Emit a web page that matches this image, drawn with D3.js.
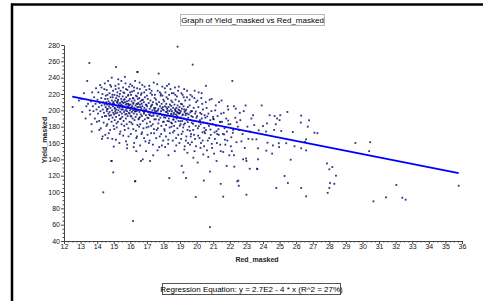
<!DOCTYPE html>
<html><head><meta charset="utf-8">
<script src="https://cdn.jsdelivr.net/npm/d3@7"></script>
<style>
html,body{margin:0;padding:0;background:#fff;}
svg{display:block;font-family:"Liberation Sans",Arial,sans-serif;}
</style></head>
<body>
<script>
const chartTitle = "Graph of Yield_masked vs Red_masked";
const xLabel = "Red_masked";
const yLabel = "Yield_masked";
const regressionText = "Regression Equation: y = 2.7E2 - 4 * x (R^2 = 27%)";
const xTicks = d3.range(12, 37, 1);
const yTicks = d3.range(40, 281, 20);
const regIntercept = 267;
const regSlope = -4.02;
const regRange = [12.5, 35.8];

const outliers = [[12.52,204],[13.4,236],[13.53,258],[13.67,174],[14.37,99.6],[16.16,64.5],[15.14,253],[16.42,247],[17.71,245],[18.85,278],[19.76,256],[20.56,230],[22.15,236],[14.88,138],[14.97,124],[16.28,113],[16.3,113.5],[16.64,138],[17.19,138],[16.75,140],[16.36,150],[15.0,155.6],[15.8,153.5],[14.29,165],[14.64,166],[14.85,138],[18.35,117],[19.36,117],[19.94,93.8],[21.6,94.3],[22.98,141],[22.27,131],[21.81,132],[22.51,114],[22.54,107.7],[22.45,113]];

const coreLeft = [[12.9,212],[13.1,198],[13.2,221],[13.3,190],[13.45,208],[13.35,205],[13.05,214],[13.55,200],
[13.58,195],[13.62,211],[13.66,183],[13.7,222],[13.74,205],[13.78,199],[13.82,216],[13.86,190],[13.9,208],[13.93,227],[13.96,201],[13.98,186],
[14.02,213],[14.05,196],[14.07,222],[14.1,204],[14.12,187],[14.15,209],[14.18,231],[14.2,199],[14.22,178],[14.25,215],[14.27,206],[14.3,192],[14.32,220],[14.34,201],[14.37,210],[14.39,185],[14.41,197],[14.43,226],[14.45,207],[14.47,193],[14.48,214],[14.49,170],
[14.51,204],[14.52,218],[14.54,193],[14.55,210],[14.57,225],[14.58,199],[14.6,207],[14.61,183],[14.63,214],[14.64,202],[14.66,236],[14.68,196],[14.69,211],[14.71,189],[14.72,205],[14.74,221],[14.75,198],[14.77,209],[14.78,176],[14.8,203],[14.81,216],[14.83,194],[14.84,229],[14.86,207],[14.87,186],[14.89,212],[14.9,200],[14.92,219],[14.93,191],[14.95,205],[14.96,224],[14.97,197],[14.98,210],[14.99,181],[14.88,240],
[15.01,208],[15.02,195],[15.04,219],[15.05,203],[15.06,188],[15.08,212],[15.09,199],[15.11,226],[15.12,206],[15.14,192],[15.15,215],[15.16,201],[15.18,179],[15.19,210],[15.21,197],[15.22,222],[15.24,204],[15.25,186],[15.26,213],[15.28,200],[15.29,232],[15.31,207],[15.32,194],[15.33,217],[15.35,203],[15.36,171],[15.38,209],[15.39,198],[15.41,224],[15.42,205],[15.43,190],[15.45,214],[15.46,201],[15.47,183],[15.48,211],[15.49,196],[15.27,238],[15.13,164],[15.37,220],[15.23,209],[15.44,207],[15.07,202],
[15.51,206],[15.52,192],[15.54,217],[15.55,201],[15.56,228],[15.58,209],[15.59,187],[15.61,213],[15.62,198],[15.64,221],[15.65,204],[15.66,176],[15.68,210],[15.69,195],[15.71,233],[15.72,207],[15.73,190],[15.75,216],[15.76,202],[15.78,183],[15.79,211],[15.8,199],[15.82,225],[15.83,205],[15.84,193],[15.86,218],[15.87,208],[15.89,168],[15.9,212],[15.91,197],[15.93,229],[15.94,203],[15.95,186],[15.97,214],[15.98,200],[15.99,222],[15.6,205],[15.7,200],[15.77,208],[15.85,203],[15.92,207],[15.53,210],[15.67,241],[15.81,158],[15.96,196],
[16.01,207],[16.02,193],[16.04,219],[16.05,202],[16.06,185],[16.08,211],[16.09,198],[16.11,230],[16.12,205],[16.14,190],[16.15,215],[16.16,200],[16.18,177],[16.19,209],[16.21,196],[16.22,224],[16.24,203],[16.25,188],[16.26,212],[16.28,199],[16.29,236],[16.31,206],[16.32,192],[16.33,218],[16.35,201],[16.36,166],[16.38,208],[16.39,195],[16.41,227],[16.42,204],[16.43,182],[16.45,214],[16.46,200],[16.47,221],[16.48,209],[16.49,189],[16.07,204],[16.17,208],[16.27,202],[16.37,199],[16.44,247],[16.2,155]];

const coreMid = [[16.51,204],[16.52,190],[16.54,215],[16.55,198],[16.57,226],[16.58,207],[16.6,183],[16.61,211],[16.63,195],[16.64,219],[16.66,202],[16.67,171],[16.69,208],[16.7,193],[16.72,231],[16.73,205],[16.75,187],[16.76,213],[16.78,199],[16.79,178],[16.81,210],[16.82,196],[16.84,222],[16.85,203],[16.87,189],[16.88,216],[16.9,200],[16.91,162],[16.93,207],[16.94,194],[16.96,225],[16.97,201],[16.99,184],[16.62,204],[16.8,200],[16.95,150],
[17.01,205],[17.03,191],[17.05,214],[17.07,198],[17.09,180],[17.11,209],[17.13,195],[17.15,226],[17.17,202],[17.19,186],[17.21,212],[17.23,197],[17.25,172],[17.27,206],[17.29,193],[17.31,219],[17.33,200],[17.35,183],[17.37,210],[17.39,196],[17.41,234],[17.43,203],[17.45,189],[17.47,215],[17.49,199],[17.12,160],[17.22,221],[17.32,207],[17.42,177],[17.46,201],[17.18,194],[17.38,145],
[17.51,203],[17.53,189],[17.55,213],[17.57,196],[17.59,176],[17.61,207],[17.63,193],[17.65,224],[17.67,200],[17.69,184],[17.73,210],[17.75,195],[17.77,168],[17.79,205],[17.81,191],[17.83,218],[17.85,199],[17.87,181],[17.89,208],[17.91,194],[17.93,229],[17.95,201],[17.97,186],[17.99,213],[17.6,199],[17.7,202],[17.8,196],[17.9,157],[17.96,204],[17.64,151],[17.84,220],
[18.01,200],[18.02,186],[18.04,211],[18.06,194],[18.07,175],[18.09,205],[18.11,191],[18.12,222],[18.14,198],[18.16,182],[18.17,208],[18.19,193],[18.21,230],[18.22,202],[18.24,187],[18.26,214],[18.27,196],[18.29,164],[18.31,204],[18.32,190],[18.34,219],[18.36,199],[18.37,179],[18.39,207],[18.41,193],[18.42,226],[18.44,201],[18.46,185],[18.47,212],[18.49,196],[18.1,155],[18.25,200],[18.45,195],[18.2,198],[18.3,145],
[18.51,199],[18.52,184],[18.54,210],[18.55,193],[18.57,173],[18.58,203],[18.6,189],[18.61,221],[18.63,197],[18.64,181],[18.66,207],[18.67,192],[18.69,228],[18.7,200],[18.72,186],[18.73,213],[18.75,195],[18.76,166],[18.78,203],[18.79,190],[18.81,217],[18.82,198],[18.84,178],[18.85,206],[18.87,192],[18.88,224],[18.9,201],[18.91,187],[18.93,211],[18.94,196],[18.96,160],[18.97,204],[18.99,191],[18.62,195],[18.74,199],[18.86,197],[18.95,200],[18.68,150],
[19.01,197],[19.03,183],[19.05,208],[19.07,191],[19.09,171],[19.11,202],[19.13,187],[19.15,219],[19.17,195],[19.19,179],[19.21,205],[19.23,190],[19.25,226],[19.27,198],[19.29,184],[19.31,212],[19.33,194],[19.35,163],[19.37,201],[19.39,188],[19.41,216],[19.43,196],[19.45,176],[19.47,204],[19.49,191],[19.04,199],[19.14,194],[19.24,201],[19.34,196],[19.1,132],[19.2,124],[19.44,148],[19.28,156]];

const coreRight = [[19.52,195],[19.55,180],[19.58,206],[19.61,188],[19.64,168],[19.67,199],[19.7,185],[19.73,217],[19.76,192],[19.79,176],[19.82,203],[19.85,187],[19.88,224],[19.91,196],[19.94,181],[19.97,210],[19.99,191],[19.6,158],[19.68,193],[19.8,142],[19.9,165],[19.57,213],[19.72,199],[19.87,150],[19.66,171],
[20.03,193],[20.07,178],[20.1,204],[20.14,186],[20.17,166],[20.21,197],[20.24,183],[20.28,215],[20.31,190],[20.35,173],[20.38,201],[20.42,185],[20.45,156],[20.48,194],[20.12,222],[20.26,160],[20.4,146],[20.2,188],[20.33,208],[20.43,114],[20.06,136],[20.47,174],
[20.52,191],[20.56,176],[20.6,203],[20.63,184],[20.67,163],[20.71,196],[20.74,181],[20.78,213],[20.82,188],[20.85,170],[20.89,199],[20.93,154],[20.96,183],[20.7,143],[20.8,125],[20.8,57],[20.99,192],
[21.03,189],[21.08,173],[21.12,200],[21.17,181],[21.22,160],[21.26,193],[21.31,177],[21.35,210],[21.4,186],[21.45,150],[21.45,110],[21.2,138],[21.48,196],[21.1,165],[21.33,170],
[21.53,186],[21.58,171],[21.63,197],[21.68,178],[21.73,158],[21.78,190],[21.82,174],[21.87,205],[21.92,183],[21.97,145],[21.7,164],
[22.03,183],[22.09,167],[22.2,176],[22.33,191],[22.4,161],[22.48,180],[22.12,150],[22.36,202],
[22.56,176],[22.63,188],[22.7,162],[22.77,171],[22.84,199],[22.9,154],[22.8,140],
[23.0,96.7],[23.0,138],[23.06,180],[23.12,165],[23.2,174],[23.2,128.5],[23.36,164.5],[23.4,194],[23.47,182]];

const lowerBand = [[14.13,176],[14.33,168],[14.56,181],[14.7,172],[14.91,165],[15.03,177],[15.17,184],[15.34,160],[15.4,174],[15.57,169],[15.63,181],[15.74,162],[15.88,178],[16.03,171],[16.13,183],[16.23,160],[16.34,175],[16.4,168],[16.53,180],[16.59,157],[16.71,173],[16.83,166],[16.98,179],[17.04,170],[17.16,163],[17.26,181],[17.36,158],[17.44,172],[17.56,166],[17.66,178],[17.74,155],[17.86,171],[17.98,163],[18.05,177],[18.15,168],[18.28,159],[18.38,172],[18.48,180],[18.56,163],[18.65,175],[18.77,157],[18.89,170],[18.98,181],[19.06,165],[19.16,174],[19.26,152],[19.38,168],[19.48,160],[19.59,175],[19.71,161],[19.84,170],[19.96,156],[20.09,169],[20.23,154],[20.36,163],[20.5,172],[20.62,151],[20.76,166],[20.91,159],[21.05,147],[21.24,171],[21.42,158],[21.6,149],[21.85,163],[22.06,156],[22.25,145]];

const upperBand = [[14.26,228],[14.46,233],[14.62,219],[14.79,231],[14.94,216],[15.1,230],[15.2,218],[15.3,227],[15.46,236],[15.58,222],[15.74,226],[15.88,219],[16.0,232],[16.1,223],[16.23,228],[16.4,217],[16.56,234],[16.68,221],[16.86,229],[17.0,218],[17.14,230],[17.28,224],[17.48,219],[17.62,232],[17.78,222],[17.94,218],[18.08,227],[18.18,216],[18.33,232],[18.5,221],[18.71,219],[18.92,229],[19.08,221],[19.22,216],[19.42,224],[19.63,219],[19.86,215],[20.05,212],[20.3,221],[20.55,210],[20.9,214],[21.15,206],[21.5,212],[21.9,201],[22.25,205],[22.6,197],[22.95,206],[23.3,190]];

const coreFill = [[14.59,201.5],[14.73,193.5],[14.96,208.5],[15.11,196.5],[15.24,211.5],[15.38,189.5],[15.52,203.5],[15.66,213.5],[15.77,195.5],[15.91,205.5],[16.06,192.5],[16.19,214.5],[16.3,198.5],[16.44,207.5],[16.57,191.5],[16.69,212.5],[16.83,197.5],[16.97,206.5],[17.09,190.5],[17.24,204.5],[17.4,193.5],[17.57,208.5],[17.72,188.5],[17.88,202.5],[18.03,191.5],[18.18,203.5],[18.33,186.5],[18.47,205.5],[18.59,188.5],[18.71,201.5],[18.8,193.5],[18.92,196.5],[19.02,186.5],[19.12,207.5],[19.22,182.5],[19.32,199.5],[19.46,185.5],[19.62,197.5],[19.78,183.5],[19.95,198.5],[20.13,180.5],[20.29,195.5],[20.46,178.5],[20.64,192.5],[20.83,176.5],[21.0,189.5],[21.2,174.5],[21.43,185.5],[21.66,170.5],[21.9,187.5],[22.18,172.5],[22.42,185.5]];

const fringeRight = [[23.6,164.5],[23.64,128.5],[23.66,128],[23.7,140],[23.7,153.5],[23.74,175.5],[23.92,206],[24.0,180.8],[24.18,174],[24.2,150.6],[24.24,184],[24.27,160.4],[24.4,194],[24.55,147],[24.6,157],[24.67,176],[24.7,193],[24.77,183],[24.8,105],[24.85,190],[24.95,159.7],[24.97,155],[25.0,188],[25.04,194],[25.1,174.7],[25.3,119.6],[25.4,159.7],[25.47,198],[25.5,111],[25.67,139.5],[25.8,173.5],[25.9,156],[26.28,185],[26.3,105],[26.3,153.5],[26.3,193.5],[26.54,161.6],[26.6,94.7],[26.6,151],[26.6,164.5],[26.7,180],[26.78,187.8],[27.1,172.6],[27.28,172],[27.86,135],[27.9,99],[28.0,105],[28.0,127.8],[28.04,111],[28.18,130.6],[28.3,110],[28.4,120],[29.57,160],[30.4,150],[30.46,161],[30.66,88.6],[31.42,93.5],[32.04,108.6],[32.4,93],[32.6,90.6],[35.8,107.7]];

const W = 483, H = 301;
const svg = d3.select("body").append("svg").attr("width", W).attr("height", H);
svg.append("rect").attr("width", W).attr("height", H).attr("fill", "#fff");

// frame
svg.append("line").attr("x1", 12).attr("x2", W).attr("y1", 4.5).attr("y2", 4.5).attr("stroke", "#000").attr("stroke-width", 2.5);
svg.append("line").attr("x1", 12).attr("x2", 12).attr("y1", 3.3).attr("y2", H).attr("stroke", "#000").attr("stroke-width", 2.5);

const x = d3.scaleLinear().domain([12, 36]).range([64, 462]);
const y = d3.scaleLinear().domain([40, 280]).range([241, 45]);

// title box
const tg = svg.append("g");
tg.append("rect").attr("x", 180.5).attr("y", 14.5).attr("width", 144).attr("height", 11).attr("fill", "#fff").attr("stroke", "#b8b8b8");
tg.append("text").attr("x", 252.5).attr("y", 23).attr("text-anchor", "middle").attr("font-size", 8).attr("fill", "#000").text(chartTitle);

// axes
const xAxis = svg.append("g").attr("transform", "translate(0,241)")
  .call(d3.axisBottom(x).tickValues(xTicks).tickFormat(d3.format("d")).tickSize(3).tickSizeOuter(0));
svg.append("g").attr("transform", "translate(0,241)")
  .call(d3.axisBottom(x).tickValues(d3.range(12, 36.01, 0.25).filter(v => v % 1 !== 0)).tickFormat("").tickSize(1.5).tickSizeOuter(0))
  .call(g => g.select(".domain").remove());
const yAxis = svg.append("g").attr("transform", "translate(64,0)")
  .call(d3.axisLeft(y).tickValues(yTicks).tickFormat(d3.format("d")).tickSize(3).tickSizeOuter(0));
svg.append("g").attr("transform", "translate(64,0)")
  .call(d3.axisLeft(y).tickValues(d3.range(40, 281, 5).filter(v => v % 20 !== 0)).tickFormat("").tickSize(1.5).tickSizeOuter(0))
  .call(g => g.select(".domain").remove());
svg.selectAll(".domain").attr("stroke", "#444");
svg.selectAll(".tick line").attr("stroke", "#444");
xAxis.selectAll("text").attr("font-size", 7).attr("fill", "#111").attr("dy", "0.5em").attr("y", 4);
yAxis.selectAll("text").attr("font-size", 7).attr("fill", "#111").attr("x", -4);
svg.selectAll(".tick text").attr("font-family", "Liberation Sans, Arial, sans-serif");

svg.append("text").attr("x", 257).attr("y", 262).attr("text-anchor", "middle").attr("font-size", 7).attr("font-weight", "bold").attr("fill", "#222").text(xLabel);
svg.append("text").attr("transform", "translate(47,140) rotate(-90)").attr("text-anchor", "middle").attr("font-size", 7).attr("font-weight", "bold").attr("fill", "#222").text(yLabel);

// points
const allPts = [].concat(coreLeft, coreMid, coreRight, lowerBand, upperBand, coreFill, fringeRight, outliers);
svg.append("g").selectAll("rect").data(allPts).join("rect")
  .attr("x", d => x(d[0]) - 0.9).attr("y", d => y(d[1]) - 0.9)
  .attr("width", 1.8).attr("height", 1.8)
  .attr("fill", "#0c0c70").attr("fill-opacity", 0.85);

// regression line
const line = d3.line().x(d => x(d)).y(d => y(regIntercept + regSlope * d));
svg.append("path").datum(regRange).attr("d", line).attr("fill", "none").attr("stroke", "#0000ff").attr("stroke-width", 1.8);

// regression box
svg.append("rect").attr("x", 162.5).attr("y", 283.5).attr("width", 178).attr("height", 11).attr("fill", "#fff").attr("stroke", "#555");
svg.append("text").attr("x", 251.5).attr("y", 292).attr("text-anchor", "middle").attr("font-size", 8).attr("fill", "#000").text(regressionText);
</script>
</body></html>
